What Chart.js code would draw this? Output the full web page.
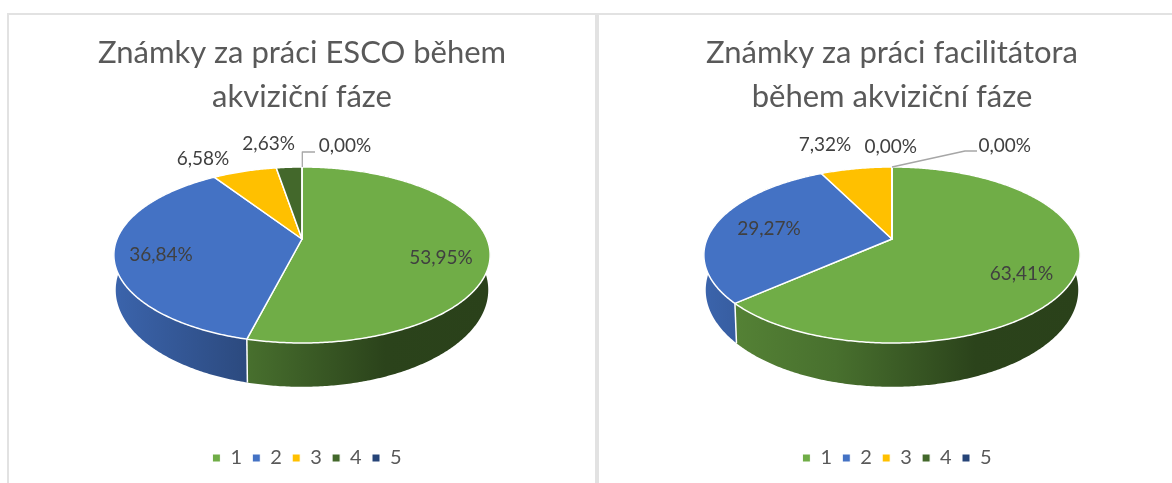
<!DOCTYPE html>
<html><head><meta charset="utf-8">
<style>
html,body{margin:0;padding:0;background:#fff;width:1172px;height:483px;overflow:hidden}
.panel{position:absolute;top:13px;height:480px;border:2px solid #e2e2e2;box-sizing:border-box;background:#fff}
canvas{display:block;filter:blur(.35px)}
</style>
<script src="https://cdn.jsdelivr.net/npm/chart.js@4"></script>
</head><body>
<div class="panel" style="left:7px;width:590px"><canvas id="a" width="586" height="468"></canvas></div>
<div class="panel" style="left:597px;width:590px"><canvas id="b" width="586" height="468"></canvas></div>
<script>
const categories = ['1','2','3','4','5'];
const escoValues = [53.95,36.84,6.58,2.63,0];
const facilitatorValues = [63.41,29.27,7.32,0,0];
const escoTitle = ['Známky za práci ESCO během','akviziční fáze'];
const facilitatorTitle = ['Známky za práci facilitátora','během akviziční fáze'];
const colors = ['#70ad47','#4472c4','#ffc000','#43682b','#264478'];

const fmt = v => v.toFixed(2).replace('.',',') + '%';
const shade = (hex,f) => {
  const n = parseInt(hex.slice(1),16);
  return `rgb(${(n>>16)*f|0},${((n>>8)&255)*f|0},${(n&255)*f|0})`;
};
// brightness of the side wall, by relative position across the pie
const wallStops = [
  [[0,.82],[.09,.75],[.35,.65],[.72,.39],[1,.38]],
  [[0,.88],[.35,.65],[1,.65]],
  [[0,.8],[1,.6]],
  [[0,.8],[1,.6]],
  [[0,.8],[1,.6]]
];

const pie3d = {
  id:'pie3d',
  afterLayout(chart,args,o){
    chart.legend.left += o.legendShift; chart.legend.right += o.legendShift;
  },
  beforeDatasetsDraw(chart,args,o){
    const ctx = chart.ctx, arcs = chart.getDatasetMeta(0).data;
    const cx = arcs[0].x, cy = o.cy;
    const a = o.persp, off = o.apexShift;
    // perspective projection of the unit disc, driven by the arc's own angle
    const proj = (ang,low) => {
      const u = Math.cos(ang), v = -Math.sin(ang), w = 1 + a*v;
      const X = o.A*u/w, Y = (-off - o.ry*v)/w;
      return low ? [cx + X*o.lowScale, cy + o.depth + Y*o.lowScaleY] : [cx + X, cy + Y];
    };
    const steps = (s,e) => { const n = Math.max(1,Math.ceil((e-s)/0.01)), r=[]; for(let i=0;i<=n;i++) r.push(s+(e-s)*i/n); return r; };
    // walls
    arcs.forEach((el,i) => {
      if (el.endAngle-el.startAngle<=0) return;
      const g = ctx.createLinearGradient(cx-o.rx,0,cx+o.rx,0);
      wallStops[i].forEach(([t,f]) => g.addColorStop(t,shade(colors[i],f)));
      const pts = steps(el.startAngle,el.endAngle);
      ctx.beginPath();
      pts.forEach((t,k) => { const p = proj(t,false); k?ctx.lineTo(p[0],p[1]):ctx.moveTo(p[0],p[1]); });
      pts.slice().reverse().forEach(t => { const p = proj(t,true); ctx.lineTo(p[0],p[1]); });
      ctx.closePath(); ctx.fillStyle = g; ctx.fill();
    });
    // separators on the wall
    ctx.strokeStyle = '#fff'; ctx.lineWidth = 1.5;
    arcs.forEach(el => {
      const ang = el.endAngle;
      if (Math.sin(ang) > 0.25) {
        const p = proj(ang,false), q = proj(ang,true);
        ctx.beginPath(); ctx.moveTo(p[0],p[1]); ctx.lineTo(q[0],q[1]); ctx.stroke();
      }
    });
    // top faces
    arcs.forEach((el,i) => {
      ctx.beginPath(); ctx.moveTo(cx,cy-off);
      steps(el.startAngle,el.endAngle).forEach(t => { const p = proj(t,false); ctx.lineTo(p[0],p[1]); });
      ctx.closePath(); ctx.fillStyle = colors[i]; ctx.fill();
      ctx.strokeStyle = '#fff'; ctx.lineWidth = 1.5; ctx.lineJoin='round'; ctx.stroke();
    });
    // leader lines
    ctx.strokeStyle = '#a6a6a6'; ctx.lineWidth = 1.3;
    o.leaders.forEach(l => { ctx.beginPath(); l.forEach((p,k)=>k?ctx.lineTo(p[0],p[1]):ctx.moveTo(p[0],p[1])); ctx.stroke(); });
    // value labels
    const vals = chart.data.datasets[0].data;
    ctx.font = o.labelFont; ctx.fillStyle = '#404040'; ctx.textAlign='center'; ctx.textBaseline='middle';
    o.labelAt.forEach((p,i) => { if(p) ctx.fillText(fmt(vals[i]),p[0],p[1]); });
    return false;
  }
};

function make(id,title,values,labelAt,leaders){
  return new Chart(document.getElementById(id),{
    type:'pie',
    plugins:[pie3d],
    data:{labels:categories,datasets:[{data:values,backgroundColor:colors,borderColor:'#fff',borderWidth:1}]},
    options:{
      responsive:false,animation:false,
      layout:{padding:{bottom:5}},
      plugins:{
        tooltip:{enabled:false},
        title:{display:true,text:title,color:'#595959',
          font:{family:'Lato',size:31,weight:'normal',lineHeight:1.42},
          padding:{top:16,bottom:10}},
        legend:{position:'bottom',
          labels:{boxWidth:8,boxHeight:8,padding:10.3,color:'#595959',font:{family:'Lato',size:20}}},
        pie3d:{cy:240,rx:188.4,ry:88,A:185,persp:.1818,apexShift:16,depth:35,lowScale:.99,lowScaleY:1.10,
          legendShift:5,labelFont:'19px Lato',labelAt,leaders}
      }
    }
  });
}
const dx=9, dy=15;
make('a',escoTitle,escoValues,
  [[441-dx,258-dy],[161-dx,255-dy],[203-dx,159-dy],[268.6-dx,144-dy],[345-dx,146-dy]],
  [[[302.3-dx,167-dy],[302.3-dx,152-dy],[315-dx,152-dy]]]);
const ex=599;
make('b',facilitatorTitle,facilitatorValues,
  [[1021.5-ex,274-dy],[769-ex,229-dy],[825-ex,145-dy],[890.7-ex,147-dy],[1004.8-ex,146-dy]],
  [[[892-ex,167-dy],[965-ex,151-dy],[977-ex,151-dy]]]);
</script>
</body></html>
